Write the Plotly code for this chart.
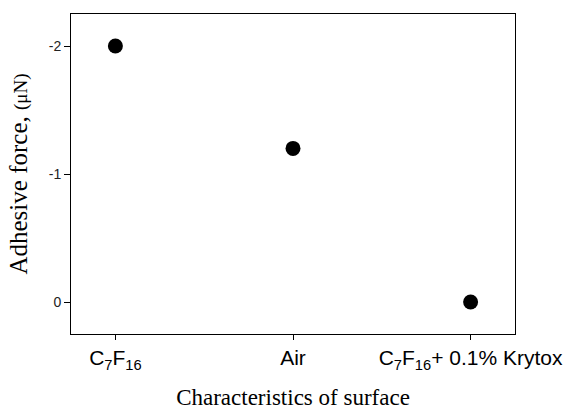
import plotly.graph_objects as go

categories = ["C<sub>7</sub>F<sub>16</sub>", "Air", "C<sub>7</sub>F<sub>16</sub>+ 0.1% Krytox"]
forces = [-2.0, -1.2, 0.0]
xpos = [0, 1, 2]

fig = go.Figure()
fig.add_trace(go.Scatter(x=xpos, y=forces, mode="markers",
                         marker=dict(color="black", size=15)))

fig.update_layout(
    width=569, height=410,
    margin=dict(l=71, r=54, t=14, b=76),
    plot_bgcolor="white", paper_bgcolor="white",
    showlegend=False,
    xaxis=dict(range=[-0.25, 2.25], tickvals=xpos, ticktext=categories,
               ticks="outside", ticklen=5, tickcolor="black",
               showline=True, linecolor="black", linewidth=1, mirror=True,
               showgrid=False, zeroline=False, automargin=False,
               tickfont=dict(family="Arial, Liberation Sans", size=21, color="black"),
               title=dict(text="Characteristics of surface",
                          font=dict(family="Liberation Serif, Times New Roman", size=23, color="black"),
                          standoff=24)),
    yaxis=dict(range=[0.25, -2.25], tickvals=[-2, -1, 0], ticktext=["-2", "-1", "0"],
               ticks="outside", ticklen=6, tickcolor="black",
               showline=True, linecolor="black", linewidth=1, mirror=True,
               showgrid=False, zeroline=False, automargin=False,
               tickfont=dict(family="Arial, Liberation Sans", size=14, color="#222"),
               title=dict(text="Adhesive force, <span style='font-size:19px'>(μN)</span>",
                          font=dict(family="Liberation Serif, Times New Roman", size=25, color="black"),
                          standoff=13)),
)

fig.write_html("out.html")
